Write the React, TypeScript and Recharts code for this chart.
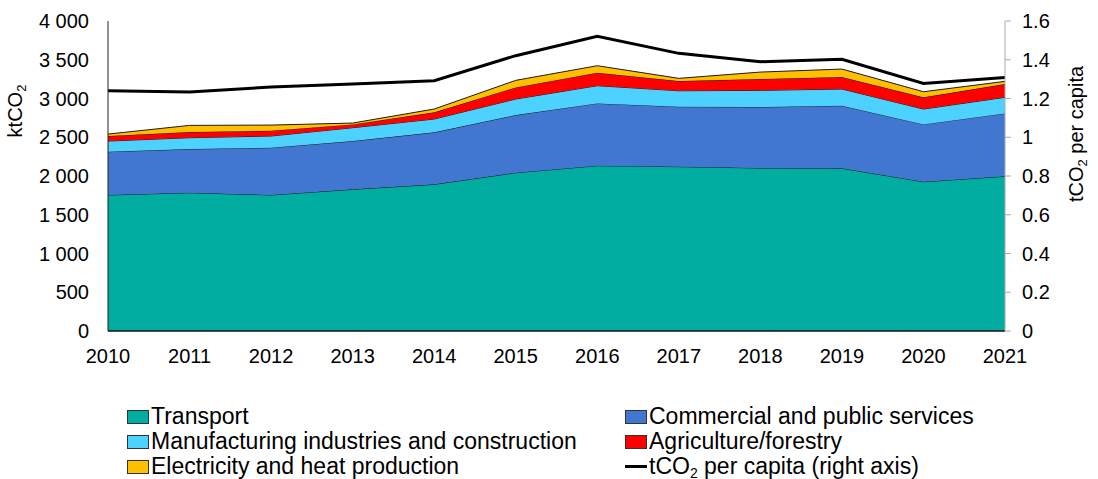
import { ComposedChart, Area, Line, XAxis, YAxis } from 'recharts';

const years = [2010, 2011, 2012, 2013, 2014, 2015, 2016, 2017, 2018, 2019, 2020, 2021];
const transport = [1755, 1784, 1755, 1828, 1892, 2042, 2133, 2120, 2103, 2099, 1926, 1996];
const commercial = [558, 564, 610, 623, 671, 744, 804, 774, 787, 808, 740, 812];
const manufacturing = [138, 146, 151, 172, 172, 207, 228, 206, 215, 215, 198, 207];
const agriculture = [65, 73, 68, 43, 86, 150, 167, 125, 146, 155, 151, 171];
const electricity = [25, 86, 73, 17, 43, 91, 91, 35, 90, 103, 72, 35];
const perCapita = [1.24, 1.234, 1.259, 1.275, 1.292, 1.421, 1.521, 1.433, 1.39, 1.402, 1.278, 1.309];

const leftTicks = [0, 500, 1000, 1500, 2000, 2500, 3000, 3500, 4000];
const rightTicks = [0, 0.2, 0.4, 0.6, 0.8, 1, 1.2, 1.4, 1.6];

const FONT = 'Liberation Sans, Arial, sans-serif';

const series = [
  { key: 'transport', name: 'Transport', color: '#00ADA0' },
  { key: 'commercial', name: 'Commercial and public services', color: '#4177D0' },
  { key: 'manufacturing', name: 'Manufacturing industries and construction', color: '#4DD2FF' },
  { key: 'agriculture', name: 'Agriculture/forestry', color: '#FF0000' },
  { key: 'electricity', name: 'Electricity and heat production', color: '#FFC000' },
];

const data = years.map((year, i) => ({
  year,
  transport: transport[i],
  commercial: commercial[i],
  manufacturing: manufacturing[i],
  agriculture: agriculture[i],
  electricity: electricity[i],
  perCapita: perCapita[i],
}));

const fmtLeft = (v: number) =>
  v >= 1000 ? `${Math.floor(v / 1000)} ${String(v % 1000).padStart(3, '0')}` : String(v);

const fmtRight = (v: number) => String(Math.round(v * 10) / 10);

const tickStyle = { fill: '#000', fontSize: 20, fontFamily: FONT };

// legend sits below the plot, two columns like the original
const LegendBox = () => {
  const item = (s: { name: string; color: string }) => (
    <div style={{ display: 'flex', alignItems: 'center', height: 25 }}>
      <span style={{ width: 20, height: 12, background: s.color, border: '1px solid #333', marginRight: 2 }} />
      <span>{s.name}</span>
    </div>
  );
  return (
    <div
      style={{
        position: 'absolute',
        left: 0,
        top: 404,
        width: 1098,
        height: 75,
        fontFamily: FONT,
        fontSize: 23,
        color: '#000',
        lineHeight: '25px',
      }}
    >
      <div style={{ position: 'absolute', left: 127, top: 0 }}>
        {item(series[0])}
        {item(series[2])}
        {item(series[4])}
      </div>
      <div style={{ position: 'absolute', left: 625, top: 0 }}>
        {item(series[1])}
        {item(series[3])}
        <div style={{ display: 'flex', alignItems: 'center', height: 25 }}>
          <span style={{ width: 22, height: 3, background: '#000', marginRight: 2 }} />
          <span>
            tCO<sub style={{ fontSize: 14, verticalAlign: '-4px', lineHeight: 0 }}>2</sub> per capita (right axis)
          </span>
        </div>
      </div>
    </div>
  );
};

export default function App() {
  return (
    <div style={{ position: 'absolute', left: 0, top: 0, width: 1098, height: 479, background: '#fff' }}>
      <ComposedChart
        width={1098}
        height={479}
        data={data}
        margin={{ top: 21, right: 0, left: 0, bottom: 118 }}
      >
        <XAxis
          dataKey="year"
          type="number"
          domain={[2010, 2021]}
          ticks={years}
          interval={0}
          height={30}
          tick={tickStyle}
          tickLine={false}
          tickSize={6}
          tickMargin={12}
          axisLine={{ stroke: '#111', strokeWidth: 1.5 }}
        />
        <YAxis
          yAxisId="left"
          width={108}
          domain={[0, 4000]}
          ticks={leftTicks}
          interval={0}
          tickFormatter={fmtLeft}
          tick={tickStyle}
          tickLine={false}
          tickSize={6}
          tickMargin={13}
          axisLine={{ stroke: '#222', strokeWidth: 1 }}
          label={{
            content: () => (
              <text
                x={22}
                y={111}
                transform="rotate(-90, 22, 111)"
                textAnchor="middle"
                fontFamily={FONT}
                fontSize={20}
                fill="#000"
              >
                ktCO<tspan fontSize={13} dy={4}>2</tspan>
              </text>
            ),
          }}
        />
        <YAxis
          yAxisId="right"
          orientation="right"
          width={93}
          domain={[0, 1.6]}
          ticks={rightTicks}
          interval={0}
          tickFormatter={fmtRight}
          tick={tickStyle}
          tickLine={{ stroke: '#aaa' }}
          tickSize={6}
          tickMargin={11}
          axisLine={{ stroke: '#aaa' }}
          label={{
            content: () => (
              <text
                x={1083}
                y={134}
                transform="rotate(-90, 1083, 134)"
                textAnchor="middle"
                fontFamily={FONT}
                fontSize={20}
                fill="#000"
              >
                tCO<tspan fontSize={13} dy={4}>2</tspan>
                <tspan dy={-4}> per capita</tspan>
              </text>
            ),
          }}
        />
        {series.map((s) => (
          <Area
            key={s.key}
            yAxisId="left"
            type="linear"
            dataKey={s.key}
            name={s.name}
            stackId="a"
            stroke="#1a1a1a"
            strokeWidth={1}
            fill={s.color}
            fillOpacity={1}
            isAnimationActive={false}
          />
        ))}
        <Line
          yAxisId="right"
          type="linear"
          dataKey="perCapita"
          stroke="#000"
          strokeWidth={3}
          dot={false}
          isAnimationActive={false}
        />
      </ComposedChart>
      <LegendBox />
    </div>
  );
}
